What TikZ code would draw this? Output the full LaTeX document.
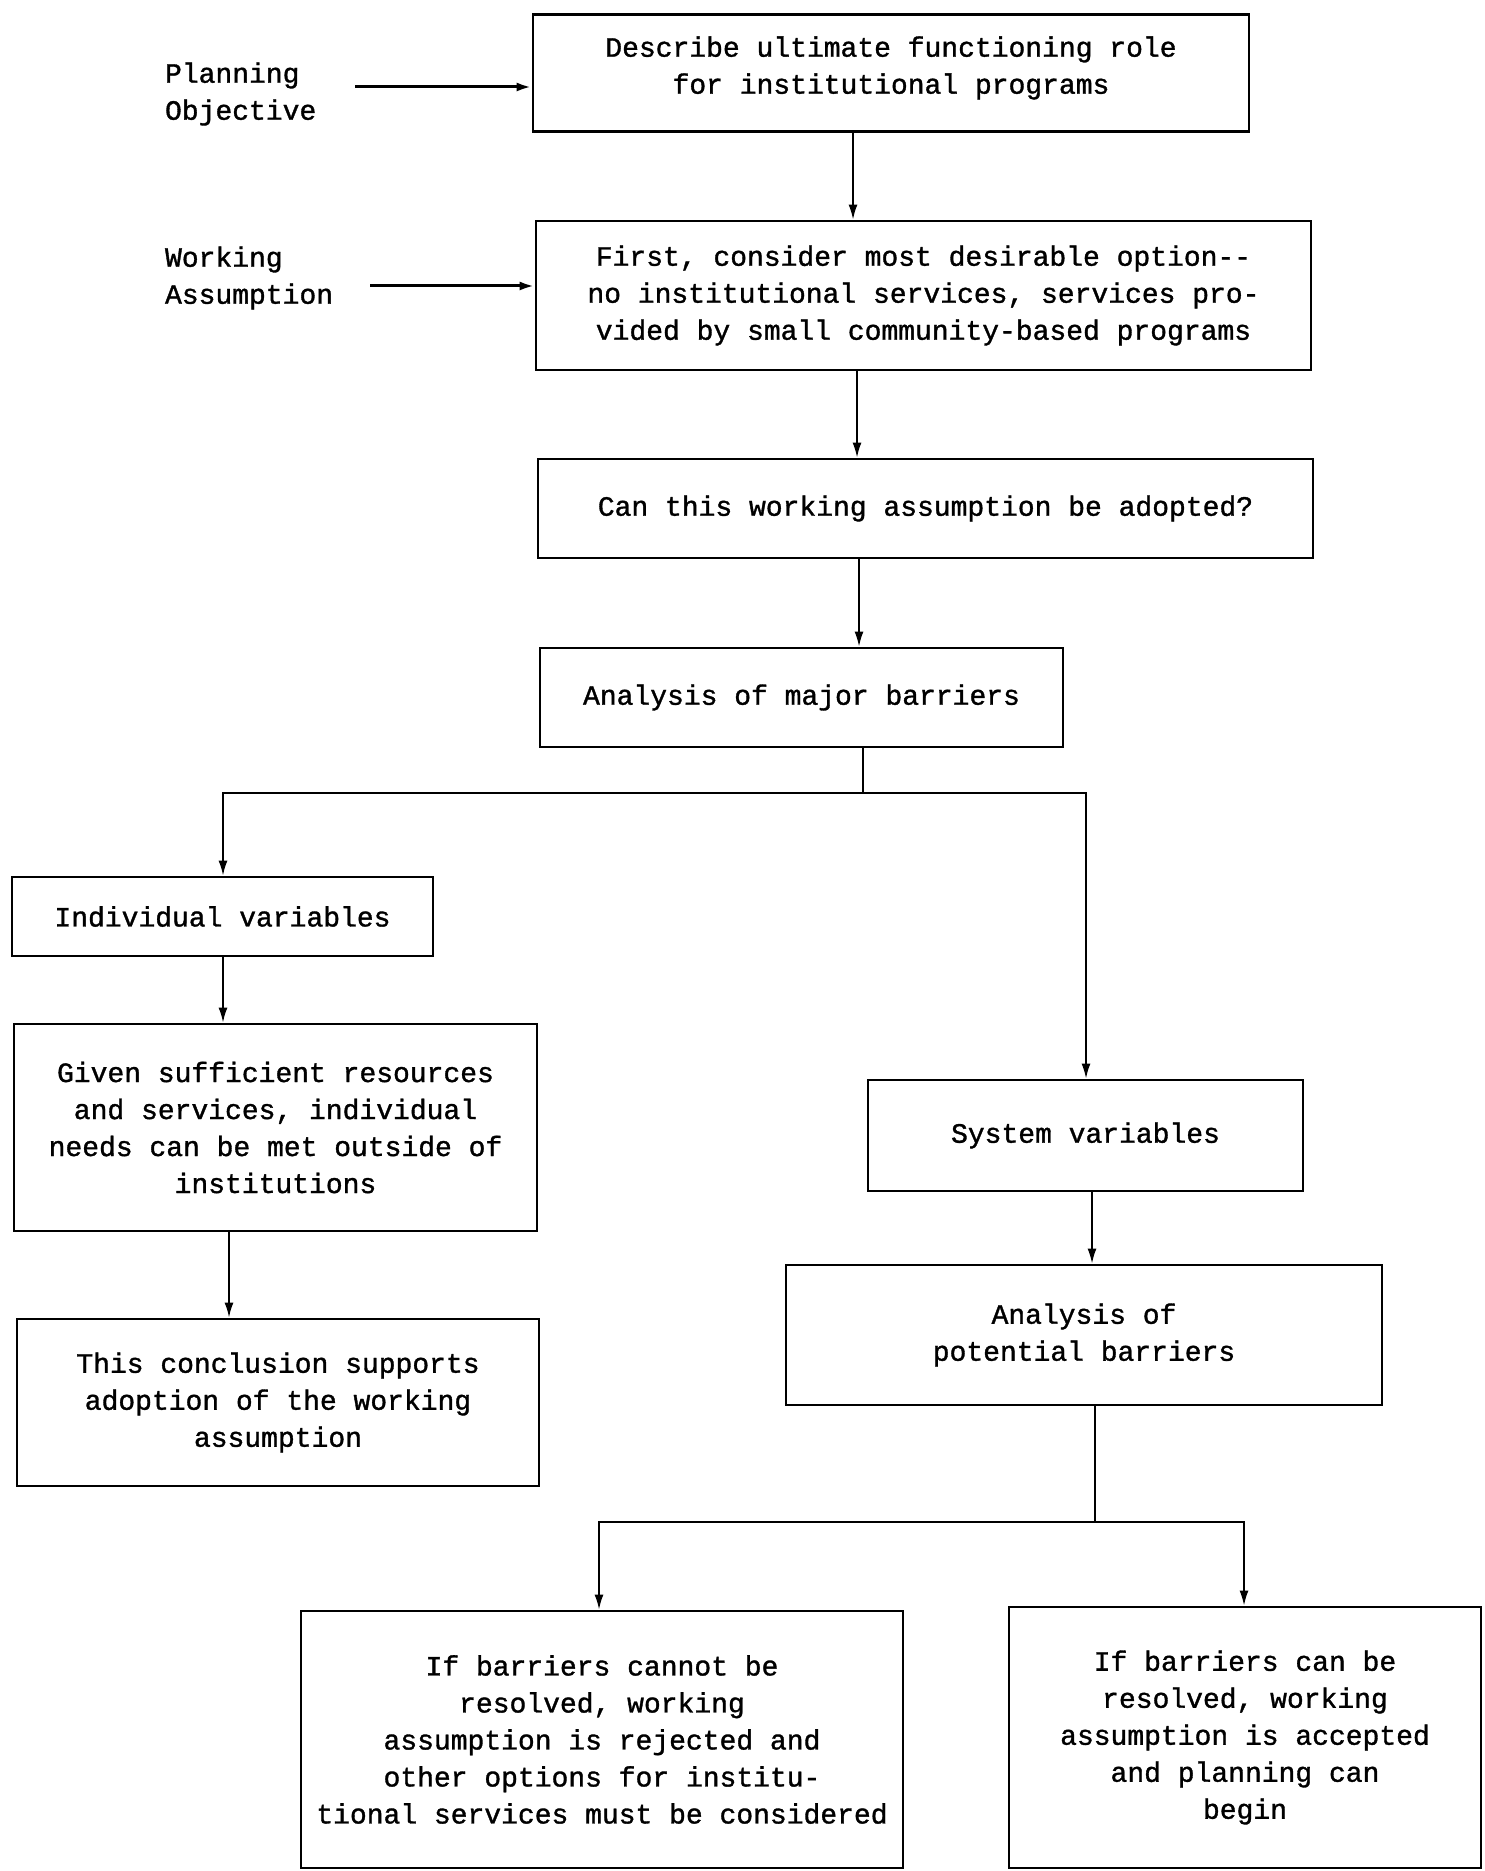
\documentclass[tikz,border=0pt]{standalone}
\usepackage{fontspec}
\newfontfamily\tw[FakeBold=1.2]{Liberation Mono}
\usetikzlibrary{arrows.meta}
\begin{document}
\begin{tikzpicture}[x=0.5pt,y=-0.5pt,
  txt/.style={font=\tw\fontsize{14}{18.5}\selectfont},
  box/.style={txt, draw, line width=1.4pt, align=center, inner sep=0pt},
  lab/.style={txt, align=left, anchor=west},
  conn/.style={line width=0.9pt, -{Latex[length=7.5pt,width=4.5pt]}},
  thickconn/.style={line width=1.5pt, -{Latex[length=7.5pt,width=4.5pt]}},
  ln/.style={line width=0.9pt}]
\useasboundingbox (0,0) rectangle (1484,1871);
\fill[white] (0,0) rectangle (1484,1871);

% boxes
\node[box, minimum width=358pt, minimum height=58.5pt] (b1) at (891,73)
  {\raisebox{-1pt}[0pt][0pt]{\begin{tabular}{@{}c@{}}Describe ultimate functioning role\\for institutional programs\end{tabular}}};
\node[box, minimum width=387.5pt, minimum height=74.5pt] (b2) at (923.5,295.5)
  {First, consider most desirable option-{}-\\no institutional services, services pro-\\vided by small community-based programs};
\node[box, minimum width=387.5pt, minimum height=49.5pt] (b3) at (925.5,508.5)
  {Can this working assumption be adopted?};
\node[box, minimum width=261.5pt, minimum height=49.5pt] (b4) at (801.5,697.5)
  {Analysis of major barriers};
\node[box, minimum width=210.5pt, minimum height=39.5pt] (b5) at (222.5,916.5)
  {Individual variables};
\node[box, minimum width=261.5pt, minimum height=103.5pt] (b6) at (275.5,1127.5)
  {Given sufficient resources\\and services, individual\\needs can be met outside of\\institutions};
\node[box, minimum width=261pt, minimum height=83.5pt] (b7) at (278,1402.5)
  {This conclusion supports\\adoption of the working\\assumption};
\node[box, minimum width=217.5pt, minimum height=55.5pt] (b8) at (1085.5,1135.5)
  {System variables};
\node[box, minimum width=298pt, minimum height=70pt] (b9) at (1084,1335)
  {Analysis of\\potential barriers};
\node[box, minimum width=301pt, minimum height=128.5pt] (b10) at (602,1739.5)
  {If barriers cannot be\\resolved, working\\assumption is rejected and\\other options for institu-\\tional services must be considered};
\node[box, minimum width=236pt, minimum height=130.5pt] (b11) at (1245,1737.5)
  {If barriers can be\\resolved, working\\assumption is accepted\\and planning can\\begin};

% side labels
\node[lab] (po) at (158,94) {Planning\\Objective};
\node[lab] (wa) at (158,278) {Working\\Assumption};
\coordinate (poa) at (355,87);
\coordinate (waa) at (370,286);
\draw[thickconn] (poa) -- (b1.west |- poa);
\draw[thickconn] (waa) -- (b2.west |- waa);

% vertical connector positions
\coordinate (x1) at (853,0);
\coordinate (x2) at (857,0);
\coordinate (x3) at (859,0);
\coordinate (xl) at (223,0);
\coordinate (xl2) at (229,0);
\coordinate (xr) at (1086,0);
\coordinate (xr2) at (1092,0);
\coordinate (xbl) at (599,0);
\coordinate (xbr) at (1244,0);
\coordinate (j1) at (863,793);
\coordinate (j2) at (1095,1522);

\draw[conn] (b1.south -| x1) -- (b2.north -| x1);
\draw[conn] (b2.south -| x2) -- (b3.north -| x2);
\draw[conn] (b3.south -| x3) -- (b4.north -| x3);
\draw[ln] (b4.south -| j1) -- (j1);
\draw[conn] (j1) -| (b5.north -| xl);
\draw[conn] (j1) -| (b8.north -| xr);
\draw[conn] (b5.south -| xl) -- (b6.north -| xl);
\draw[conn] (b6.south -| xl2) -- (b7.north -| xl2);
\draw[conn] (b8.south -| xr2) -- (b9.north -| xr2);
\draw[ln] (b9.south -| j2) -- (j2);
\draw[conn] (j2) -| (b10.north -| xbl);
\draw[conn] (j2) -| (b11.north -| xbr);
\end{tikzpicture}
\end{document}
